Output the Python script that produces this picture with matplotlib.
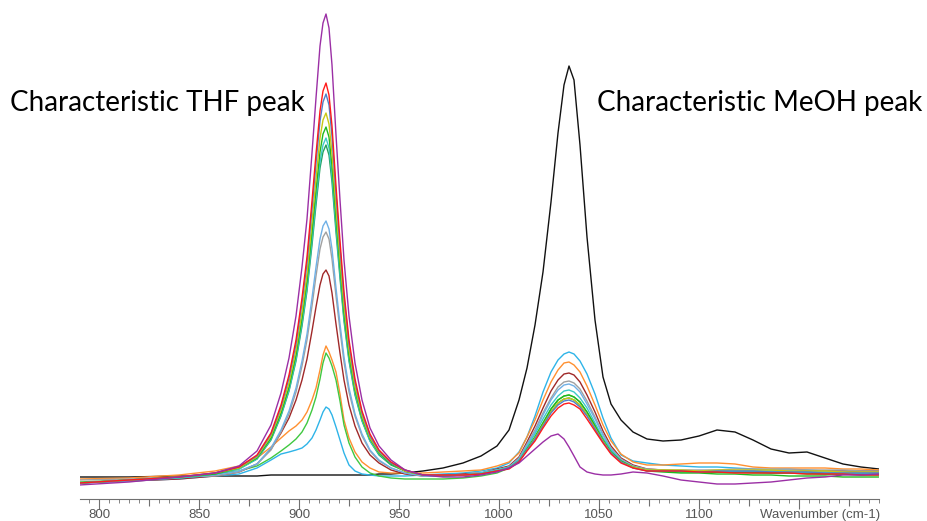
import matplotlib.pyplot as plt
from matplotlib.ticker import MultipleLocator

# wavenumber grid (cm-1), denser around the two peaks
wavenumber = [790, 815, 840, 858, 870, 879, 886, 891, 895, 898.5,
              901.5, 904, 906.5, 908.5, 910.5, 912, 913.5, 915, 916.5, 918.5,
              920.5, 922.5, 925, 928, 931.5, 935.5, 940, 946, 953, 962,
              972, 982, 991, 999, 1005, 1010, 1014, 1018, 1022, 1026,
              1029.5, 1032.5, 1035, 1037.5, 1040.5, 1044, 1048, 1052, 1056, 1061,
              1067, 1074, 1082, 1091, 1100, 1109, 1118, 1127, 1136, 1145,
              1154, 1163, 1172, 1181, 1190]

# absorbance (a.u.)
meoh_only = [3, 3, 4, 4, 4, 4, 5, 5, 5, 5, 5, 5, 5, 5, 5, 5, 5, 5, 5, 5,
             5, 5, 5, 5, 5, 5, 6, 6, 7, 9, 12, 17, 24, 34, 50, 80, 112, 155, 208, 278,
             347, 395, 414, 400, 335, 243, 160, 103, 76, 60, 48, 41, 39, 40, 44, 50, 48, 40, 31, 27,
             28, 22, 16, 13, 11]
purple = [-5, -2, 3, 7, 14, 29, 55, 87, 122, 164, 213, 261, 327, 382, 434, 457, 466, 452, 415, 345,
          280, 220, 164, 117, 80, 52, 34, 20, 10, 5, 3, 3, 5, 8, 12, 17, 24, 31, 38, 44,
          46, 41, 33, 24, 13, 8, 6, 5, 5, 6, 8, 7, 4, 0, -2, -4, -4, -3, -2, 0,
          2, 3, 5, 5, 6]
red = [-3, 0, 3, 7, 13, 25, 47, 75, 105, 140, 182, 223, 279, 326, 369, 389, 397, 385, 354, 294,
       239, 188, 140, 101, 69, 46, 30, 18, 10, 5, 5, 5, 6, 9, 11, 18, 29, 39, 52, 64,
       72, 76, 77, 75, 71, 61, 49, 37, 26, 17, 12, 9, 9, 9, 8, 8, 7, 7, 7, 7,
       6, 6, 6, 5, 5]
steelblue = [-3, 0, 3, 7, 13, 24, 46, 73, 102, 136, 177, 217, 271, 317, 359, 378, 386, 375, 344, 286,
             232, 183, 136, 98, 67, 44, 29, 17, 10, 5, 5, 5, 6, 9, 12, 19, 30, 41, 54, 67,
             75, 79, 80, 78, 73, 64, 51, 38, 27, 18, 12, 9, 9, 9, 8, 9, 9, 9, 8, 8,
             8, 7, 7, 7, 7]
olive = [-3, 0, 3, 7, 12, 23, 44, 70, 97, 130, 168, 206, 258, 301, 342, 360, 367, 356, 327, 272,
         221, 174, 130, 93, 64, 42, 28, 17, 9, 5, 5, 5, 6, 9, 12, 19, 30, 42, 55, 68,
         77, 81, 82, 80, 75, 65, 52, 39, 27, 18, 13, 10, 10, 10, 9, 10, 10, 10, 10, 9,
         9, 9, 8, 8, 8]
green = [-3, 0, 3, 6, 12, 22, 42, 67, 93, 125, 162, 199, 248, 290, 328, 346, 353, 343, 314, 262,
         213, 167, 125, 90, 62, 41, 27, 16, 9, 5, 4, 5, 6, 9, 12, 19, 31, 43, 57, 71,
         80, 84, 85, 83, 78, 68, 54, 40, 28, 19, 13, 9, 8, 7, 7, 6, 6, 5, 5, 4,
         4, 4, 3, 3, 3]
cyan = [-3, 0, 2, 6, 11, 21, 41, 65, 90, 121, 157, 192, 240, 281, 318, 335, 342, 332, 305, 254,
        206, 162, 121, 87, 60, 39, 26, 16, 9, 5, 4, 5, 7, 10, 13, 20, 33, 46, 61, 75,
        84, 89, 90, 88, 82, 72, 57, 42, 30, 19, 13, 10, 9, 9, 8, 9, 9, 9, 9, 8,
        8, 8, 7, 7, 7]
darkgreen = [-3, 0, 2, 6, 11, 21, 40, 64, 89, 119, 154, 189, 235, 275, 312, 328, 335, 325, 298, 248,
             202, 159, 119, 85, 59, 39, 25, 15, 9, 5, 5, 5, 6, 9, 12, 19, 30, 42, 55, 68,
             77, 81, 82, 80, 75, 65, 52, 39, 27, 18, 13, 10, 9, 9, 8, 8, 8, 8, 7, 7,
             7, 6, 6, 6, 6]
lightblue = [-3, -1, 2, 5, 9, 16, 32, 50, 69, 92, 119, 146, 182, 213, 241, 254, 259, 251, 231, 192,
             156, 123, 92, 66, 46, 30, 20, 12, 7, 4, 4, 5, 7, 10, 13, 21, 35, 48, 65, 80,
             90, 95, 96, 94, 88, 76, 61, 45, 31, 20, 14, 10, 9, 9, 9, 9, 9, 9, 9, 9,
             8, 8, 8, 7, 7]
gray = [0, 1, 3, 4, 8, 16, 30, 48, 66, 88, 114, 140, 174, 204, 231, 243, 248, 241, 221, 184,
        150, 118, 88, 64, 44, 29, 19, 12, 7, 4, 4, 5, 7, 10, 13, 22, 36, 50, 67, 82,
        93, 98, 99, 97, 91, 79, 63, 46, 32, 21, 14, 11, 10, 10, 10, 10, 11, 11, 11, 11,
        10, 10, 10, 9, 9]
darkred = [-3, -1, 1, 4, 8, 16, 31, 47, 62, 80, 100, 121, 149, 173, 195, 206, 210, 204, 187, 156,
           127, 100, 75, 54, 37, 25, 17, 10, 6, 4, 4, 6, 7, 11, 14, 23, 38, 54, 72, 89,
           100, 106, 107, 105, 98, 85, 68, 49, 34, 22, 15, 11, 10, 9, 9, 8, 8, 8, 8, 8,
           9, 9, 9, 9, 9]
orange = [1, 2, 5, 9, 14, 22, 33, 42, 49, 54, 60, 68, 80, 92, 110, 125, 134, 128, 120, 108,
          86, 60, 42, 28, 18, 12, 8, 7, 7, 7, 8, 9, 10, 14, 18, 27, 43, 60, 80, 98,
          110, 117, 118, 115, 108, 94, 75, 55, 39, 26, 18, 15, 15, 16, 17, 17, 16, 13, 12, 12,
          12, 12, 11, 11, 10]
green2 = [-2, 0, 3, 6, 9, 14, 22, 29, 35, 41, 48, 57, 70, 83, 101, 117, 127, 122, 114, 100,
          79, 55, 37, 23, 13, 7, 4, 2, 1, 1, 1, 2, 4, 7, 12, 19, 31, 43, 57, 71,
          80, 84, 85, 83, 78, 68, 55, 40, 28, 19, 13, 10, 9, 8, 8, 8, 8, 7, 7, 7,
          6, 6, 6, 5, 5]
skyblue = [-3, -1, 1, 4, 6, 12, 20, 26, 28, 30, 32, 36, 42, 50, 60, 68, 73, 71, 65, 53,
           40, 27, 15, 9, 6, 5, 4, 4, 4, 5, 6, 7, 9, 12, 17, 28, 43, 64, 88, 108,
           120, 126, 128, 126, 119, 106, 86, 62, 42, 25, 19, 17, 15, 14, 13, 13, 12, 11, 10, 10,
           10, 9, 9, 8, 8]

spectra = [(meoh_only, '#111111'), (skyblue, '#2eb4e8'), (orange, '#ff9030'), (green2, '#40c840'),
           (darkred, '#a02828'), (gray, '#a0a0a0'), (lightblue, '#6fb0e6'), (darkgreen, '#22a05a'),
           (cyan, '#3cc8c8'), (green, '#1fb81f'), (olive, '#c8c814'), (steelblue, '#4f7fc8'),
           (red, '#ff1a1a'), (purple, '#9b2fa5')]

fig = plt.figure(figsize=(9.27, 5.21), dpi=100)
ax = fig.add_axes([80/927, 22/521, 799/927, 499/521])

for y, c in spectra:
    ax.plot(wavenumber, y, color=c, lw=1.0)

ax.set_ylim(-19, 480)
ax.set_yticks([])
for s in ['left', 'right', 'top']:
    ax.spines[s].set_visible(False)
ax.spines['bottom'].set_color('#707070')

ax.xaxis.set_major_locator(MultipleLocator(25))
ax.xaxis.set_minor_locator(MultipleLocator(5))
ax.set_xlim(790.5, 1190)
ax.tick_params(axis='x', which='major', length=7, color='#707070', labelcolor='#555555', labelsize=9.5, pad=0)
ax.tick_params(axis='x', which='minor', length=3, color='#707070')
ticks = [t for t in ax.get_xticks() if 790.5 <= t <= 1190]
ax.set_xticks(ticks)
ax.set_xticklabels([str(int(t)) if t % 50 == 0 and t <= 1100 else '' for t in ticks],
                   family='Liberation Sans')
for t, tk in zip(ticks, ax.xaxis.get_major_ticks()):
    if t % 50 != 0:
        tk.tick1line.set_markersize(5)
ax.set_xlim(790.5, 1190)

ax.text(1190.5, -35, 'Wavenumber (cm-1)', ha='right', va='center',
        fontsize=9.5, color='#555555', family='Liberation Sans')

fig.text(10/927, 1 - 103/521, 'Characteristic THF peak', fontsize=20, family='Lato', va='center')
fig.text(597/927, 1 - 103/521, 'Characteristic MeOH peak', fontsize=20, family='Lato', va='center')

fig.savefig('out.png', dpi=100)
